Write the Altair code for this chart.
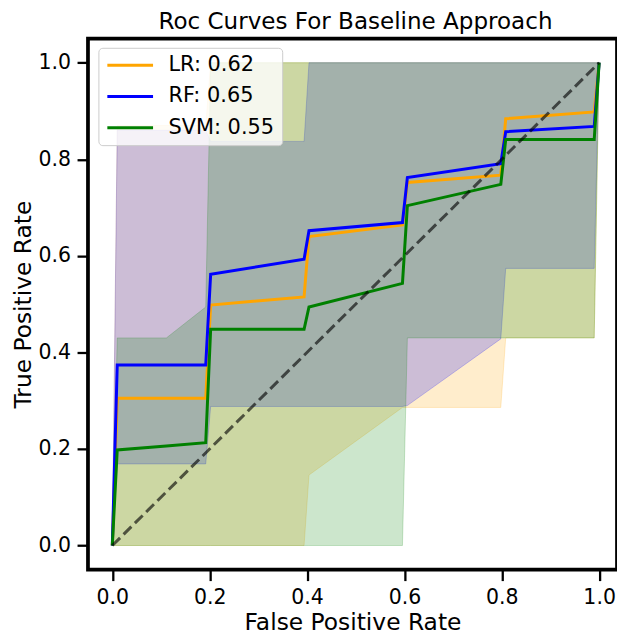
import altair as alt
import pandas as pd

# ---- data ----
FPR = [0.0, 0.0101, 0.1111, 0.1919, 0.2020, 0.3939, 0.4040, 0.5960, 0.6061, 0.7980, 0.8081, 0.9899, 1.0]

LR_TPR = [0.0, 0.305, 0.305, 0.305, 0.498, 0.515, 0.640, 0.664, 0.752, 0.767, 0.884, 0.898, 1.0]
LR_LO = [0.0, 0.0, 0.0, 0.0, 0.0, 0.0, 0.146, 0.286, 0.286, 0.286, 0.430, 0.430, 1.0]
LR_HI = [0.0, 0.87, 0.87, 0.87, 1.0, 1.0, 1.0, 1.0, 1.0, 1.0, 1.0, 1.0, 1.0]

RF_TPR = [0.0, 0.374, 0.374, 0.374, 0.562, 0.593, 0.652, 0.669, 0.762, 0.791, 0.857, 0.868, 1.0]
RF_LO = [0.0, 0.169, 0.169, 0.169, 0.288, 0.288, 0.288, 0.288, 0.290, 0.428, 0.574, 0.574, 1.0]
RF_HI = [0.0, 0.86, 0.86, 0.86, 0.837, 0.837, 1.0, 1.0, 1.0, 1.0, 1.0, 1.0, 1.0]

SVM_TPR = [0.0, 0.198, 0.206, 0.213, 0.448, 0.448, 0.494, 0.543, 0.704, 0.748, 0.841, 0.841, 1.0]
SVM_LO = [0.0, 0.0, 0.0, 0.0, 0.0, 0.0, 0.0, 0.0, 0.43, 0.43, 0.43, 0.43, 1.0]
SVM_HI = [0.0, 0.43, 0.43, 0.494, 1.0, 1.0, 1.0, 1.0, 1.0, 1.0, 1.0, 1.0, 1.0]

MODELS = ["LR: 0.62", "RF: 0.65", "SVM: 0.55"]
COLORS = ["#ffa500", "#0000ff", "#008000"]
DIAG = [0.0, 1.0]
TICKS = [0.0, 0.2, 0.4, 0.6, 0.8, 1.0]

rows = []
for name, tpr, lo, hi in zip(MODELS, [LR_TPR, RF_TPR, SVM_TPR], [LR_LO, RF_LO, SVM_LO], [LR_HI, RF_HI, SVM_HI]):
    for i, x in enumerate(FPR):
        rows.append({"model": name, "fpr": x, "tpr": tpr[i], "lo": lo[i], "hi": hi[i], "order": MODELS.index(name)})
df = pd.DataFrame(rows)
diag = pd.DataFrame({"fpr": DIAG, "tpr": DIAG})

FONT = "DejaVu Sans"
xscale = alt.Scale(domain=[-0.05, 1.0367], nice=False, zero=False)
yscale = alt.Scale(domain=[-0.05, 1.05], nice=False, zero=False)
xaxis = alt.Axis(values=TICKS, format=".1f", title="False Positive Rate")
yaxis = alt.Axis(values=TICKS, format=".1f", title="True Positive Rate")
cscale = alt.Scale(domain=MODELS, range=COLORS)

bands = alt.Chart(df).mark_area(fillOpacity=0.2, strokeOpacity=0.2, strokeWidth=1).encode(
    x=alt.X("fpr:Q", scale=xscale, axis=xaxis),
    y=alt.Y("lo:Q", scale=yscale, axis=yaxis),
    y2="hi:Q",
    color=alt.Color("model:N", scale=cscale, legend=None),
    stroke=alt.Stroke("model:N", scale=cscale, legend=None),
    order="order:Q",
)

lines = alt.Chart(df).mark_line(strokeWidth=3).encode(
    x=alt.X("fpr:Q", scale=xscale),
    y=alt.Y("tpr:Q", scale=yscale),
    color=alt.Color(
        "model:N",
        scale=cscale,
        legend=alt.Legend(
            title=None,
            orient="none",
            legendX=10.5,
            legendY=9.3,
            symbolType="stroke",
            symbolSize=2116,
            symbolStrokeWidth=3,
            labelFontSize=21,
            labelFont=FONT,
            labelColor="black",
            clipHeight=20,
            rowPadding=10.5,
            padding=7.5,
            fillColor="rgba(255,255,255,0.8)",
            strokeColor="#cccccc",
            cornerRadius=4,
            labelOffset=14,
        ),
    ),
    detail="model:N",
)

diag_line = alt.Chart(diag).mark_line(strokeWidth=3, strokeDash=[11, 5], color="black", opacity=0.62).encode(
    x=alt.X("fpr:Q", scale=xscale),
    y=alt.Y("tpr:Q", scale=yscale),
)

chart = (
    alt.layer(bands, lines, diag_line)
    .resolve_scale(color="independent", stroke="independent")
    .properties(
        width=532.5,
        height=534.6,
        padding={"left": 80.5, "top": 28.7, "right": 0, "bottom": 64.5},
        autosize=alt.AutoSizeParams(type="none"),
        title=alt.Title(
            "Roc Curves For Baseline Approach",
            font=FONT,
            fontSize=23.2,
            fontWeight="normal",
            color="black",
            offset=4,
            dx=3,
        ),
    )
    .configure_view(stroke="black", strokeWidth=3.75)
    .configure_axis(
        domain=False,
        grid=False,
        ticks=True,
        tickSize=11,
        tickWidth=2.3,
        tickColor="black",
        labelFont=FONT,
        labelFontSize=20.6,
        labelColor="black",
        labelPadding=6.6,
        titleFont=FONT,
        titleFontSize=23.5,
        titleFontWeight="normal",
        titleColor="black",
        titlePadding=3,
    )
)

chart.save("out.html", embed_options={"renderer": "svg", "actions": False})
